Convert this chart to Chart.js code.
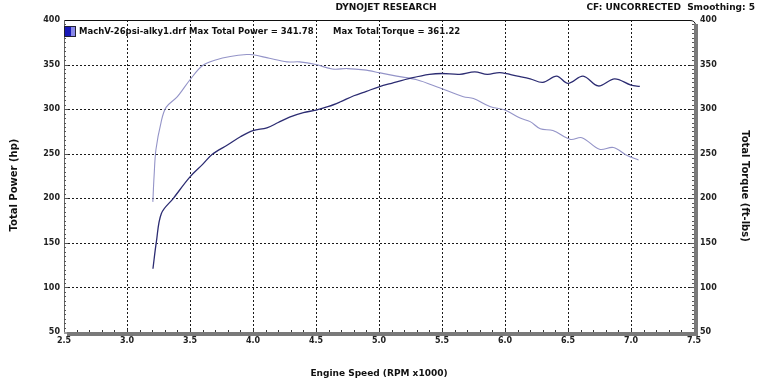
<!DOCTYPE html>
<html>
<head>
<meta charset="utf-8">
<script src="https://cdn.jsdelivr.net/npm/chart.js@4.4.0/dist/chart.umd.min.js"></script>
<style>
html,body{margin:0;padding:0;background:#fff;}
#wrap{width:761px;height:386px;position:relative;}
</style>
</head>
<body>
<div id="wrap"><canvas id="c" width="761" height="386"></canvas></div>
<script>
// ---- data ----
const powerRpm = [3.206,3.233,3.273,3.368,3.5,3.6,3.675,3.8,3.9,4.0,4.11,4.2,4.29,4.4,4.5,4.6,4.69,4.8,4.9,5.0,5.1,5.26,5.4,5.5,5.64,5.76,5.86,5.96,6.1,6.2,6.3,6.41,6.5,6.62,6.74,6.87,7.0,7.07];
const powerHp  = [121,151,183,200,224,238,249,260,269,276,279,285,291,296,299,303,308,315,320,325,329,335,339,340,339,341.78,339,341,337,334,330,337,329,337,326,334,327,325.5];
const torqueRpm = [3.205,3.215,3.23,3.27,3.31,3.4,3.5,3.6,3.71,3.82,3.95,4.0,4.13,4.27,4.37,4.5,4.63,4.75,4.88,5.0,5.14,5.3,5.48,5.67,5.75,5.88,6.0,6.12,6.2,6.28,6.38,6.52,6.61,6.75,6.86,6.97,7.06];
const torqueFtlb = [196,225,255,285,302,314,333,349,355.5,359,361.22,361,357,353,353,350,345,345.5,344,341,337,333,324,314,312,303,299,290,286,278,276,266,268,255,257,248,243];
const xTicks = [2.5,3.0,3.5,4.0,4.5,5.0,5.5,6.0,6.5,7.0,7.5];
const yTicks = [50,100,150,200,250,300,350,400];
const titleText = "DYNOJET RESEARCH";
const cfText = "CF: UNCORRECTED  Smoothing: 5";
const legendText1 = "MachV-26psi-alky1.drf Max Total Power = 341.78";
const legendText2 = "Max Total Torque = 361.22";
const xTitle = "Engine Speed (RPM x1000)";
const yTitle = "Total Power (hp)";
const y2Title = "Total Torque (ft-lbs)";

const FONT = "'DejaVu Sans', Verdana, sans-serif";

const decor = {
  id: 'decor',
  beforeDatasetsDraw(chart) {
    const {ctx, chartArea: a, scales} = chart;
    const xs = scales.x, ys = scales.y;
    ctx.save();
    ctx.strokeStyle = '#1a1a1a';
    ctx.lineWidth = 1;
    ctx.setLineDash([2,2]);
    xTicks.forEach(v => {
      if (v <= xs.min || v >= xs.max) return;
      const px = Math.round(xs.getPixelForValue(v)) + 0.5;
      ctx.beginPath(); ctx.moveTo(px, a.top); ctx.lineTo(px, a.bottom); ctx.stroke();
    });
    yTicks.forEach(v => {
      if (v <= ys.min || v >= ys.max) return;
      const py = Math.round(ys.getPixelForValue(v)) + 0.5;
      ctx.beginPath(); ctx.moveTo(a.left, py); ctx.lineTo(a.right, py); ctx.stroke();
    });
    ctx.setLineDash([]);
    ctx.restore();
  },
  afterDatasetsDraw(chart) {
    const {ctx, chartArea: a, scales} = chart;
    const xs = scales.x, ys = scales.y;
    ctx.save();
    ctx.strokeStyle = '#111';
    ctx.lineWidth = 1;
    ctx.beginPath();
    ctx.moveTo(a.left, a.top + 0.5);
    ctx.lineTo(a.right - 4, a.top + 0.5);
    ctx.quadraticCurveTo(a.right + 1, a.top + 0.5, a.right + 1.5, a.top + 5);
    ctx.stroke();
    ctx.strokeStyle = '#666';
    ctx.beginPath(); ctx.moveTo(a.left + 0.5, a.top); ctx.lineTo(a.left + 0.5, a.bottom); ctx.stroke();
    ctx.fillStyle = '#7a7a7a';
    ctx.fillRect(a.right, a.top + 4, 4, a.bottom - a.top);
    ctx.fillRect(a.left + 3, a.bottom, a.right - a.left + 1, 4);
    ctx.fillStyle = '#a0a0a0';
    ctx.fillRect(a.left, a.bottom, 3, 2);
    ctx.strokeStyle = '#555';
    for (let v = 55; v < 400; v += 5) {
      const py = Math.round(ys.getPixelForValue(v)) + 0.5;
      const len = (v % 50 === 0) ? 4 : 2;
      ctx.beginPath(); ctx.moveTo(a.left, py); ctx.lineTo(a.left + len, py); ctx.stroke();
      ctx.beginPath(); ctx.moveTo(a.right, py); ctx.lineTo(a.right - len, py); ctx.stroke();
    }
    ctx.strokeStyle = '#333';
    for (let i = 1; i < 50; i++) {
      const v = 2.5 + i * 0.1;
      const px = Math.round(xs.getPixelForValue(v)) + 0.5;
      const len = (i % 5 === 0) ? 3 : 2;
      ctx.beginPath(); ctx.moveTo(px, a.bottom); ctx.lineTo(px, a.bottom - len); ctx.stroke();
    }
    ctx.fillStyle = '#1a1ab8';
    ctx.fillRect(a.left, 26, 7, 11);
    ctx.fillStyle = '#8888e8';
    ctx.fillRect(a.left + 7, 26, 5, 11);
    ctx.strokeStyle = '#223';
    ctx.strokeRect(a.left + 0.5, 26.5, 11, 10);
    ctx.fillStyle = '#111';
    ctx.textBaseline = 'middle';
    ctx.font = 'bold 8.5px ' + FONT;
    ctx.textAlign = 'left';
    ctx.fillText(legendText1, 79, 32);
    ctx.fillText(legendText2, 333, 32);
    ctx.font = 'bold 9px ' + FONT;
    ctx.textAlign = 'center';
    ctx.fillText(titleText, 386, 8);
    ctx.textAlign = 'right';
    ctx.fillText(cfText, 755, 8);
    ctx.font = 'bold 9px ' + FONT;
    ctx.textAlign = 'center';
    ctx.fillText(xTitle, 379, 374);
    ctx.font = 'bold 10px ' + FONT;
    ctx.save();
    ctx.translate(14, 185);
    ctx.rotate(-Math.PI / 2);
    ctx.fillText(yTitle, 0, 0);
    ctx.restore();
    ctx.save();
    ctx.translate(745, 186);
    ctx.rotate(Math.PI / 2);
    ctx.fillText(y2Title, 0, 0);
    ctx.restore();
    ctx.restore();
  }
};

const tickFont = {family: FONT, size: 8, weight: 'bold'};

new Chart(document.getElementById('c'), {
  type: 'line',
  data: {
    datasets: [
      {
        label: 'Power',
        data: powerRpm.map((x, i) => ({x, y: powerHp[i]})),
        borderColor: '#2c2c72',
        borderWidth: 1.3,
        pointRadius: 0,
        tension: 0.35,
        yAxisID: 'y'
      },
      {
        label: 'Torque',
        data: torqueRpm.map((x, i) => ({x, y: torqueFtlb[i]})),
        borderColor: '#9494c8',
        borderWidth: 1.1,
        pointRadius: 0,
        tension: 0.35,
        yAxisID: 'y2'
      }
    ]
  },
  options: {
    responsive: false,
    animation: false,
    events: [],
    layout: {padding: {top: 20, left: 0, right: 0, bottom: 0}},
    plugins: {legend: {display: false}, tooltip: {enabled: false}},
    scales: {
      x: {
        type: 'linear', min: 2.5, max: 7.5,
        afterBuildTicks: s => { s.ticks = xTicks.map(v => ({value: v})); },
        afterFit: s => { s.height = 54; },
        grid: {display: false, drawTicks: false},
        border: {display: false},
        ticks: {font: tickFont, color: '#222', padding: 4, maxRotation: 0, autoSkip: false,
                callback: v => Number(v).toFixed(1)}
      },
      y: {
        type: 'linear', position: 'left', min: 50, max: 400,
        afterBuildTicks: s => { s.ticks = yTicks.map(v => ({value: v})); },
        afterFit: s => { s.width = 64; },
        grid: {display: false, drawTicks: false},
        border: {display: false},
        ticks: {font: tickFont, color: '#222', padding: 4}
      },
      y2: {
        type: 'linear', position: 'right', min: 50, max: 400,
        afterBuildTicks: s => { s.ticks = yTicks.map(v => ({value: v})); },
        afterFit: s => { s.width = 67; },
        grid: {display: false, drawTicks: false},
        border: {display: false},
        ticks: {font: tickFont, color: '#222', padding: 6}
      }
    }
  },
  plugins: [decor]
});
</script>
</body>
</html>
